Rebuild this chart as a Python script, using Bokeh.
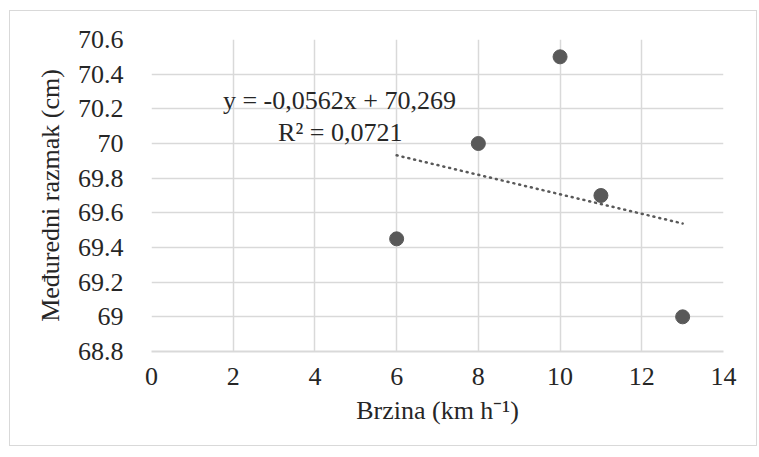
from bokeh.plotting import figure
from bokeh.models import FixedTicker, CustomJSTickFormatter, Label, ColumnDataSource
from bokeh.embed import file_html
from bokeh.resources import INLINE
import numpy as np

# data
speed = [6, 8, 10, 11, 13]
spacing = [69.45, 70.0, 70.5, 69.7, 69.0]
x_ticks = [0, 2, 4, 6, 8, 10, 12, 14]
y_ticks = [68.8, 69.0, 69.2, 69.4, 69.6, 69.8, 70.0, 70.2, 70.4, 70.6]
slope = -0.0562
intercept = 70.269
eq_text = "y = -0,0562x + 70,269"
r2_text = "R² = 0,0721"

GRID = "#d9d9d9"
MARK = "#595959"
TXT = "#262626"
FS = "26px"

p = figure(width=748, height=436, output_backend="svg", toolbar_location=None,
           x_range=(0, 14), y_range=(68.8, 70.6),
           min_border_left=141, min_border_right=35, min_border_top=28, min_border_bottom=96)
p.outline_line_color = None
p.styles = {"border": "1px solid #d9d9d9", "margin-left": "9px", "margin-top": "10px"}

xa = p.xaxis[0]
ya = p.yaxis[0]
xa.ticker = FixedTicker(ticks=x_ticks)
ya.ticker = FixedTicker(ticks=y_ticks)
ya.formatter = CustomJSTickFormatter(code="return String(Number(tick.toFixed(1)));")
xa.formatter = CustomJSTickFormatter(code="return String(Number(tick.toFixed(0)));")

for ax in (xa, ya):
    ax.major_tick_line_color = None
    ax.minor_tick_line_color = None
    ax.major_label_text_font = "Liberation Serif"
    ax.major_label_text_font_size = FS
    ax.major_label_text_color = TXT
    ax.axis_label_text_font = "Liberation Serif"
    ax.axis_label_text_font_size = FS
    ax.axis_label_text_font_style = "normal"
    ax.axis_label_text_color = TXT

xa.axis_line_color = GRID
xa.axis_line_width = 2
ya.axis_line_color = None
xa.major_label_standoff = 10
ya.major_label_standoff = 22
xa.axis_label = "Brzina (km h⁻¹)"
ya.axis_label = "Međuredni razmak (cm)"
xa.axis_label_standoff = 8
ya.axis_label_standoff = 10

p.xgrid.grid_line_color = GRID
p.ygrid.grid_line_color = GRID
p.xgrid.grid_line_width = 1.5
p.ygrid.grid_line_width = 1.5

tx = np.array([min(speed), max(speed)], dtype=float)
ty = slope * tx + intercept
p.line(tx, ty, line_color=MARK, line_width=2.5, line_dash="1 5", line_cap="round")

src = ColumnDataSource(dict(x=speed, y=spacing))
p.scatter("x", "y", source=src, size=14, fill_color=MARK, line_color=MARK)

p.add_layout(Label(x=4.6, y=70.248, text=eq_text, text_font="Liberation Serif", text_font_size=FS,
                   text_color=TXT, text_align="center", text_baseline="middle"))
p.add_layout(Label(x=4.62, y=70.063, text=r2_text, text_font="Liberation Serif", text_font_size=FS,
                   text_color=TXT, text_align="center", text_baseline="middle"))

open("out.html", "w").write(file_html(p, INLINE))
